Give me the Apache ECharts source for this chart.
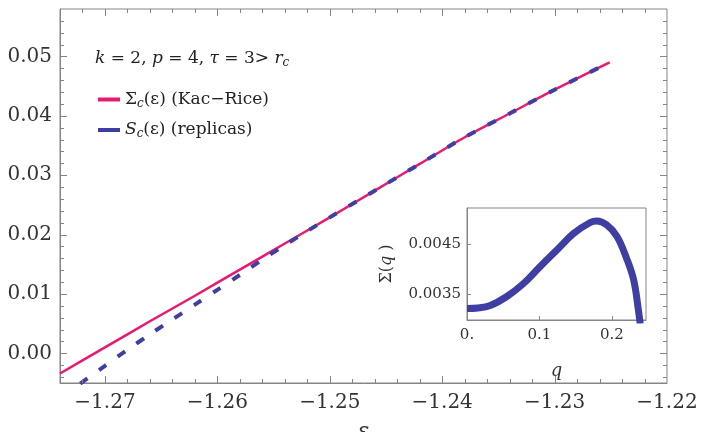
<!DOCTYPE html>
<html>
<head>
<meta charset="utf-8">
<script src="https://cdn.jsdelivr.net/npm/echarts@6/dist/echarts.min.js"></script>
<style>
  html, body { margin: 0; padding: 0; background: #fff; }
  #chart { width: 702px; height: 432px; }
</style>
</head>
<body>
<div id="chart"></div>
<script>
// Kac-Rice complexity Sigma_c(eps)
const epsKR = [-1.274, -1.270, -1.266, -1.262, -1.258, -1.254, -1.250, -1.246, -1.242, -1.238, -1.234, -1.230, -1.2251]
const sigmaKR = [-0.0034, 0.0010, 0.0054, 0.0097, 0.0141, 0.0185, 0.0229, 0.0274, 0.0319, 0.0364, 0.0404, 0.0444, 0.0490]
// replica result S_c(eps)
const epsRep = [-1.2722, -1.270, -1.268, -1.266, -1.264, -1.262, -1.260, -1.258, -1.256, -1.254, -1.252, -1.250, -1.246, -1.242, -1.238, -1.234, -1.230, -1.2251]
const sigmaRep = [-0.0051, -0.0021, 0.0006, 0.0032, 0.0057, 0.0082, 0.0107, 0.0132, 0.0158, 0.0182, 0.0206, 0.0229, 0.0274, 0.0319, 0.0364, 0.0404, 0.0444, 0.0490]
// inset Sigma(q)
const qVals = [0.000, 0.015, 0.032, 0.055, 0.078, 0.101, 0.124, 0.147, 0.170, 0.179, 0.193, 0.207, 0.220, 0.230, 0.2365, 0.239]
const sigmaQ = [0.00321, 0.00322, 0.00327, 0.00345, 0.00371, 0.00405, 0.00438, 0.00471, 0.00493, 0.00496, 0.00488, 0.00465, 0.00422, 0.00378, 0.00318, 0.00290]

const xTicks = [-1.27, -1.26, -1.25, -1.24, -1.23, -1.22]
const xTickLabels = ['−1.27', '−1.26', '−1.25', '−1.24', '−1.23', '−1.22']
const yTicks = [0, 0.01, 0.02, 0.03, 0.04, 0.05]
const yTickLabels = ['0.00', '0.01', '0.02', '0.03', '0.04', '0.05']
const insetXTicks = [0, 0.1, 0.2]
const insetXLabels = ['0.', '0.1', '0.2']
const insetYTicks = [0.0035, 0.0045]
const insetYLabels = ['0.0035', '0.0045']

const X_MIN = -1.274, X_MAX = -1.22
const Y_MIN = -0.005, Y_MAX = 0.058
const QX_MIN = 0, QX_MAX = 0.247
const QY_MIN = 0.00298, QY_MAX = 0.00522

const steps = (from, to, step) => {
  const out = []
  for (let v = from; v <= to + 1e-9; v += step) out.push(Math.round(v * 1000) / 1000)
  return out
}
const xMinor = steps(-1.272, -1.222, 0.002)
const yMinor = steps(-0.004, 0.056, 0.002)

const GRAY = '#858585'
const SERIF = 'DejaVu Serif'
const PINK = '#e8196f'
const BLUE = '#3e3ea3'

const labelFor = (ticks, labels) => (v) => {
  const i = ticks.findIndex((t) => Math.abs(t - v) < 1e-7)
  return i >= 0 ? labels[i] : ''
}

const plainAxis = (pos, min, max, grid, label, extra) => Object.assign({
  type: 'value',
  gridIndex: grid,
  position: pos,
  min: min,
  max: max,
  splitLine: { show: false },
  axisLine: { show: true, onZero: false, lineStyle: { color: GRAY, width: 1 } },
  axisTick: { show: false },
  minorTick: { show: false },
  axisLabel: {
    customValues: label[0],
    formatter: labelFor(label[0], label[1]),
    margin: label[3],
    fontFamily: SERIF,
    fontSize: label[2],
    color: '#333'
  }
}, extra || {})

// inward frame ticks drawn as custom series through the axes' own scales
const crisp = (v) => Math.round(v) + 0.5
const tickSeg = (x1, y1, x2, y2) => ({
  type: 'line',
  shape: { x1: x1, y1: y1, x2: x2, y2: y2 },
  style: { stroke: GRAY, lineWidth: 1 }
})
const xTickSeries = (values, len, axis, yLo, yHi, both) => ({
  type: 'custom',
  xAxisIndex: axis,
  yAxisIndex: axis,
  silent: true,
  z: 10,
  clip: false,
  data: values.map((v) => [v, yLo]),
  renderItem: (params, api) => {
    const b = api.coord([api.value(0), yLo])
    const t = api.coord([api.value(0), yHi])
    const x = crisp(b[0])
    const children = [tickSeg(x, b[1], x, b[1] - len)]
    if (both) children.push(tickSeg(x, t[1], x, t[1] + len))
    return { type: 'group', children: children }
  }
})
const yTickSeries = (values, len, axis, xLo, xHi, both) => ({
  type: 'custom',
  xAxisIndex: axis,
  yAxisIndex: axis,
  silent: true,
  z: 10,
  clip: false,
  data: values.map((v) => [xLo, v]),
  renderItem: (params, api) => {
    const l = api.coord([xLo, api.value(1)])
    const r = api.coord([xHi, api.value(1)])
    const y = crisp(l[1])
    const children = [tickSeg(l[0], y, l[0] + len, y)]
    if (both) children.push(tickSeg(r[0], y, r[0] - len, y))
    return { type: 'group', children: children }
  }
})

const chart = echarts.init(document.getElementById('chart'))
chart.setOption({
  animation: false,
  backgroundColor: '#fff',
  title: {
    left: 90,
    top: 44,
    text: '{i|k} = 2, {i|p} = 4, {t|τ} = 3> {i|r}{s|c}',
    textStyle: {
      fontFamily: SERIF,
      fontSize: 17,
      fontWeight: 'normal',
      color: '#222',
      rich: {
        i: { fontFamily: SERIF, fontSize: 17, fontStyle: 'italic', color: '#222' },
        t: { fontFamily: SERIF, fontSize: 17, fontStyle: 'italic', color: '#222' },
        s: { fontFamily: SERIF, fontSize: 12, fontStyle: 'italic', color: '#222', padding: [8, 0, 0, 0] }
      }
    }
  },
  legend: {
    left: 93,
    top: 86,
    orient: 'vertical',
    itemGap: 12,
    itemWidth: 22,
    itemHeight: 4,
    icon: 'rect',
    data: ['KR', 'RP'],
    formatter: (name) => name === 'KR'
      ? '{n|Σ}{s|c}{n|(ε) (Kac−Rice)}'
      : '{i|S}{s|c}{n|(ε) (replicas)}',
    textStyle: {
      rich: {
        n: { fontFamily: SERIF, fontSize: 17, color: '#222' },
        i: { fontFamily: SERIF, fontSize: 17, fontStyle: 'italic', color: '#222' },
        s: { fontFamily: SERIF, fontSize: 12, fontStyle: 'italic', color: '#222', padding: [8, 0, 0, 0] }
      }
    }
  },
  grid: [
    { left: 60, top: 9, right: 35, bottom: 49, outerBoundsMode: 'none', show: true, borderColor: GRAY, borderWidth: 1 },
    { left: 467, top: 208, width: 179, height: 112, outerBoundsMode: 'none', show: true, borderColor: GRAY, borderWidth: 1, backgroundColor: '#fff' }
  ],
  xAxis: [
    plainAxis('bottom', X_MIN, X_MAX, 0, [xTicks, xTickLabels, 20, 10], {
      name: 'ε',
      nameLocation: 'middle',
      nameGap: 38,
      nameTextStyle: { fontFamily: SERIF, fontSize: 22, fontStyle: 'italic', color: '#333' }
    }),
    plainAxis('bottom', QX_MIN, QX_MAX, 1, [insetXTicks, insetXLabels, 15, 8], {
      name: 'q',
      nameLocation: 'middle',
      nameGap: 42,
      nameTextStyle: { fontFamily: SERIF, fontSize: 18, fontStyle: 'italic', color: '#333' }
    })
  ],
  yAxis: [
    plainAxis('left', Y_MIN, Y_MAX, 0, [yTicks, yTickLabels, 20, 8]),
    plainAxis('left', QY_MIN, QY_MAX, 1, [insetYTicks, insetYLabels, 15, 6], {
      name: '{n|Σ(}{i|q}{n| )}',
      nameLocation: 'middle',
      nameRotate: 90,
      nameGap: 72,
      nameTextStyle: {
        rich: {
          n: { fontFamily: SERIF, fontSize: 16, color: '#333' },
          i: { fontFamily: SERIF, fontSize: 16, fontStyle: 'italic', color: '#333' }
        }
      }
    })
  ],
  series: [
    {
      name: 'KR',
      type: 'line',
      xAxisIndex: 0,
      yAxisIndex: 0,
      data: epsKR.map((e, i) => [e, sigmaKR[i]]),
      showSymbol: false,
      smooth: 0.3,
      color: PINK,
      lineStyle: { color: PINK, width: 2.5 }
    },
    {
      name: 'RP',
      type: 'line',
      xAxisIndex: 0,
      yAxisIndex: 0,
      data: epsRep.map((e, i) => [e, sigmaRep[i]]),
      showSymbol: false,
      smooth: 0.3,
      color: BLUE,
      lineStyle: { color: BLUE, width: 4, type: [9, 14] }
    },
    {
      name: 'inset',
      type: 'line',
      xAxisIndex: 1,
      yAxisIndex: 1,
      data: qVals.map((q, i) => [q, sigmaQ[i]]),
      showSymbol: false,
      smooth: 0.4,
      clip: true,
      color: BLUE,
      lineStyle: { color: BLUE, width: 7 }
    },
    xTickSeries(xTicks.slice(0, -1), 7, 0, Y_MIN, Y_MAX, true),
    xTickSeries(xMinor, 4, 0, Y_MIN, Y_MAX, true),
    yTickSeries(yTicks, 7, 0, X_MIN, X_MAX, true),
    yTickSeries(yMinor, 4, 0, X_MIN, X_MAX, true),
    xTickSeries(insetXTicks.slice(1), 4, 1, QY_MIN, QY_MAX, false),
    yTickSeries(insetYTicks, 4, 1, QX_MIN, QX_MAX, false)
  ]
})
</script>
</body>
</html>
